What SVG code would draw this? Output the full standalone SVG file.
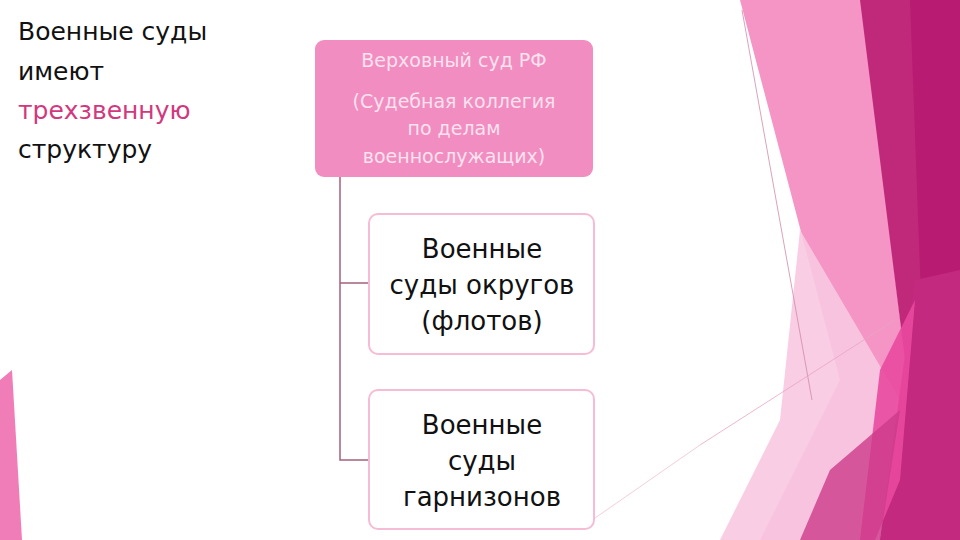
<svg xmlns="http://www.w3.org/2000/svg" width="960" height="540" viewBox="0 0 960 540">
<style>
.t{font-family:"DejaVu Sans","Liberation Sans",sans-serif;text-anchor:middle}
.box{fill:#fff;stroke:#f6bcd6;stroke-width:2}
.c{stroke:#a5607e;stroke-width:1.5;fill:none}
</style>
<rect width="960" height="540" fill="#fff"/>
<g id="decor">
<polygon points="740,0 862,0 905,360 880,540 760,540 840,380" fill="#f595c6"/>
<polygon points="800,230 900,400 880,540 720,540 780,420" fill="#f8c8e0" opacity="0.9"/>
<polygon points="860,0 960,0 960,540 880,540 905,360" fill="#c0287a"/>
<polygon points="910,0 960,0 960,540 930,540" fill="#b81b72"/>
<polygon points="915,280 960,270 960,540 880,540" fill="#c3297e"/>
<polygon points="880,370 915,300 900,480 875,540 860,540" fill="#e9499e" opacity="0.9"/>
<polygon points="830,470 900,410 880,540 800,540" fill="#cc3b89" opacity="0.8"/>
<polyline points="742,10 812,400" stroke="#d08aa8" stroke-width="0.8" fill="none"/>
<line x1="700" y1="445" x2="895" y2="320" stroke="#e9a5c4" stroke-width="0.8"/>
<line x1="585" y1="525" x2="700" y2="445" stroke="#f0c0d6" stroke-width="0.8"/>
<polygon points="0,380 12,370 22,540 0,540" fill="#f07cb8"/>
</g>
<g id="title" font-family="DejaVu Sans, Liberation Sans, sans-serif" font-size="25" fill="#111">
<text x="18" y="40">Военные суды</text>
<text x="18" y="80">имеют</text>
<text x="18" y="119" fill="#d2387e">трехзвенную</text>
<text x="18" y="158">структуру</text>
</g>
<g id="connectors">
<path class="c" d="M340,177 V460 H368 M340,283 H368"/>
</g>
<g id="n1">
<rect x="315" y="40" width="278" height="137" rx="9" fill="#f28dc1"/>
<text class="t" font-size="19" fill="#fbe2ef" x="454" y="67">Верховный суд РФ</text>
<text class="t" font-size="19" fill="#fbe2ef" x="454" y="108">(Судебная коллегия</text>
<text class="t" font-size="19" fill="#fbe2ef" x="454" y="135">по делам</text>
<text class="t" font-size="19" fill="#fbe2ef" x="454" y="163">военнослужащих)</text>
</g>
<g id="n2">
<rect class="box" x="369" y="214" width="225" height="140" rx="9"/>
<text class="t" font-size="26" fill="#111" x="482" y="258">Военные</text>
<text class="t" font-size="26" fill="#111" x="482" y="294">суды округов</text>
<text class="t" font-size="26" fill="#111" x="482" y="330">(флотов)</text>
</g>
<g id="n3">
<rect class="box" x="369" y="390" width="225" height="139" rx="9"/>
<text class="t" font-size="26" fill="#111" x="482" y="434">Военные</text>
<text class="t" font-size="26" fill="#111" x="482" y="470">суды</text>
<text class="t" font-size="26" fill="#111" x="482" y="506">гарнизонов</text>
</g>
</svg>
